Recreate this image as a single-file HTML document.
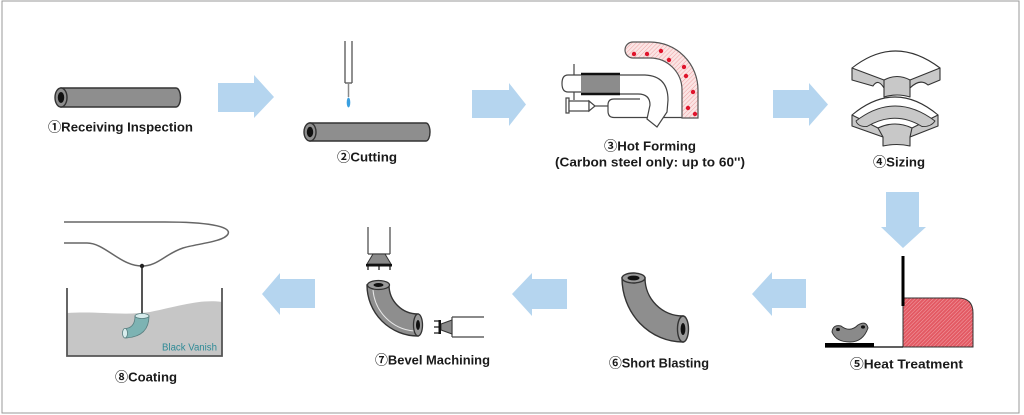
<!DOCTYPE html>
<html>
<head>
<meta charset="utf-8">
<style>
  html,body{margin:0;padding:0;background:#fff;}
  svg{display:block;}
  .lbl{font-family:"Liberation Sans","Noto Sans CJK JP",sans-serif;font-weight:bold;font-size:13px;fill:#1a1a1a;}
</style>
</head>
<body>
<svg width="1024" height="415" viewBox="0 0 1024 415" xmlns="http://www.w3.org/2000/svg">
  <defs>
    <pattern id="pinkH" width="3" height="3" patternUnits="userSpaceOnUse" patternTransform="rotate(45)">
      <rect width="3" height="3" fill="#fbe4e4"/>
      <line x1="0" y1="0" x2="0" y2="3" stroke="#eea3a3" stroke-width="1"/>
    </pattern>
    <pattern id="redH" width="2.6" height="2.6" patternUnits="userSpaceOnUse" patternTransform="rotate(45)">
      <rect width="2.6" height="2.6" fill="#e35a64"/>
      <line x1="0" y1="0" x2="0" y2="2.6" stroke="#f6b3b8" stroke-width="0.8"/>
    </pattern>
  </defs>

  <rect x="0" y="0" width="1024" height="415" fill="#fff"/>
  <rect x="2" y="1" width="1017" height="412" fill="none" stroke="#9a9a9a" stroke-width="1"/>

  <!-- Arrows -->
  <g fill="#b5d5ef">
    <polygon points="218,83 254,83 254,75 274,97 254,118 254,112 218,112"/>
    <polygon points="472,90 509,90 509,83 526,104.5 509,126 509,118 472,118"/>
    <polygon points="773,90 809,90 809,83 828,104.5 809,126 809,118 773,118"/>
    <polygon points="886,192 919,192 919,227 926,227 903,248 881,227 886,227"/>
    <polygon points="806,279 772,279 772,272 752,294 772,316 772,308 806,308"/>
    <polygon points="567,279 532,279 532,273 512,294 532,316 532,309 567,309"/>
    <polygon points="315,279 280,279 280,273 262,294 280,315 280,308 315,308"/>
  </g>

  <!-- 1 Pipe -->
  <path d="M61,88 L176,88 A4.5,9.5 0 0 1 176,107 L61,107 Z" fill="#8e8e8e" stroke="#333" stroke-width="1.4"/>
  <ellipse cx="61" cy="97.5" rx="6" ry="9.5" fill="#8e8e8e" stroke="#333" stroke-width="1.4"/>
  <ellipse cx="61" cy="97.5" rx="3.2" ry="5.5" fill="#111"/>

  <!-- 2 Cutting -->
  <line x1="345" y1="41" x2="345" y2="83" stroke="#555" stroke-width="1.3"/>
  <line x1="352" y1="41" x2="352" y2="83" stroke="#555" stroke-width="1.3"/>
  <line x1="345" y1="83" x2="352" y2="83" stroke="#555" stroke-width="1.3"/>
  <line x1="348.5" y1="83" x2="348.5" y2="97" stroke="#888" stroke-width="1.5"/>
  <ellipse cx="348.5" cy="102.5" rx="1.8" ry="5" fill="#3a9fe0"/>
  <path d="M310,123 L426,123 A4,9 0 0 1 426,141 L310,141 Z" fill="#8e8e8e" stroke="#333" stroke-width="1.4"/>
  <ellipse cx="310" cy="132" rx="6" ry="9" fill="#8e8e8e" stroke="#333" stroke-width="1.4"/>
  <ellipse cx="310" cy="132" rx="3.2" ry="5.2" fill="#111"/>

  <!-- 3 Hot forming -->
  <g stroke="#444" stroke-width="1.2" fill="#fff">
    <path d="M640,99 L614,99 Q608,99 608,105 L608,111 Q608,117.5 614,117.5 L683,117.5" fill="#fff"/>
    <path d="M620,75 L645,75 Q668,76 668,100 L667,112 L657,127 L647,119 L650,105 Q650,94 638,94 L620,94"/>
    <path d="M581,75 L568,75 Q562,75 562,83.5 Q562,92 568,92 L581,92"/>
    <line x1="574" y1="64" x2="574" y2="75"/>
    <line x1="574" y1="92" x2="574" y2="100"/>
    <rect x="566" y="98" width="3" height="15"/>
    <rect x="569" y="101" width="20" height="10"/>
    <polygon points="589,101 595,106 589,111"/>
    <line x1="595" y1="106" x2="608" y2="106"/>
  </g>
  <rect x="581" y="74" width="39" height="20" fill="#8c8c8c"/>
  <line x1="581" y1="74" x2="620" y2="74" stroke="#111" stroke-width="2.5"/>
  <line x1="581" y1="94" x2="620" y2="94" stroke="#111" stroke-width="2.5"/>
  <path d="M650,42 A48,48 0 0 1 698,90 L698,118 L682,118 L682,90 A32,32 0 0 0 650,58 L633,58 A8,8 0 0 1 633,42 Z" fill="url(#pinkH)" stroke="#555" stroke-width="1.2"/>
  <g fill="#e0142c">
    <circle cx="634" cy="54" r="2.2"/>
    <circle cx="647" cy="54" r="2.2"/>
    <circle cx="661" cy="51" r="2.2"/>
    <circle cx="669" cy="60" r="2.2"/>
    <circle cx="684" cy="67" r="2.2"/>
    <circle cx="686" cy="76" r="2.2"/>
    <circle cx="693" cy="92" r="2.2"/>
    <circle cx="688" cy="108" r="2.2"/>
    <circle cx="695" cy="114" r="2.2"/>
  </g>

  <!-- 4 Sizing: upper die -->
  <g stroke="#333" stroke-width="1.1" stroke-linejoin="round">
    <path d="M852,68 L852,80 L873,86 Q878,78 884,88 L884,97 Q897,93 910,97 L910,88 Q920,78 928,85 L940,80 L940,68 Z" fill="#c8c8c8"/>
    <path d="M852,68 Q895,34 940,68 L910,80 Q897,73 884,80 Z" fill="#fff"/>
    <line x1="884" y1="80" x2="884" y2="88"/>
    <line x1="910" y1="80" x2="910" y2="88"/>
  </g>
  <!-- lower die -->
  <g stroke="#333" stroke-width="1.1" stroke-linejoin="round">
    <path d="M852,115 L852,126 L883,137 L883,146 Q897,143 910,146 L910,137 L938,126 L938,115 Z" fill="#c8c8c8"/>
    <path d="M852,115 Q895,79 938,115 L912,128 Q895,120 878,128 Z" fill="#fff"/>
    <path d="M856,121 Q895,91 935,121 Q931,127 922,126.5 Q895,110 867,126.5 Q858,127 856,121 Z" fill="#c8c8c8" stroke-width="0.9"/>
    <line x1="878" y1="128" x2="883" y2="137"/>
    <line x1="912" y1="128" x2="910" y2="137"/>
  </g>

  <!-- 5 Heat treatment -->
  <path d="M903,298 L958,298 Q973,298 973,313 L973,347 L903,347 Z" fill="url(#redH)" stroke="#333" stroke-width="1"/>
  <line x1="903" y1="256" x2="903" y2="306" stroke="#000" stroke-width="3"/>
  <line x1="825" y1="347" x2="903" y2="347" stroke="#000" stroke-width="1.2"/>
  <rect x="825" y="343" width="49" height="4.5" fill="#000"/>
  <path d="M832,332 Q833,324 841,326 Q850,333 858,325 Q866,320 868,328 Q863,342 850,342 Q836,342 832,332 Z" fill="#8a8a8a" stroke="#333" stroke-width="1"/>
  <ellipse cx="838" cy="329.5" rx="2" ry="1.6" fill="#111"/>
  <ellipse cx="863" cy="327" rx="2" ry="1.6" fill="#111"/>

  <!-- 6 Short blasting -->
  <path d="M622,278 A61,64 0 0 0 683,342 L683,316 A38,38 0 0 1 645,278 Z" fill="#8e8e8e" stroke="#333" stroke-width="1.4"/>
  <ellipse cx="633.5" cy="278" rx="11.5" ry="5" fill="#9a9a9a" stroke="#333" stroke-width="1.4"/>
  <ellipse cx="633.5" cy="278" rx="6" ry="2.4" fill="#111"/>
  <ellipse cx="683" cy="329" rx="5.5" ry="13" fill="#9a9a9a" stroke="#333" stroke-width="1.4"/>
  <ellipse cx="683" cy="329" rx="2.4" ry="6" fill="#111"/>

  <!-- 7 Bevel machining -->
  <g stroke="#444" stroke-width="1.2" fill="none">
    <line x1="368" y1="227" x2="368" y2="254"/>
    <line x1="390" y1="227" x2="390" y2="254"/>
    <line x1="368" y1="254" x2="390" y2="254"/>
    <line x1="452" y1="317" x2="484" y2="317"/>
    <line x1="452" y1="337" x2="484" y2="337"/>
    <line x1="452" y1="317" x2="452" y2="337"/>
  </g>
  <polygon points="373,254 385,254 391,264 367,264" fill="#8a8a8a" stroke="#333" stroke-width="1"/>
  <rect x="366" y="264" width="26" height="2.5" fill="#111"/>
  <g stroke="#111" stroke-width="1.2">
    <line x1="368" y1="266" x2="368" y2="270"/>
    <line x1="379" y1="266" x2="379" y2="270"/>
    <line x1="390" y1="266" x2="390" y2="270"/>
  </g>
  <polygon points="452,320 452,334 441,330 441,324" fill="#8a8a8a" stroke="#333" stroke-width="1"/>
  <rect x="438.5" y="320" width="2.5" height="14" fill="#111"/>
  <g stroke="#111" stroke-width="1.2">
    <line x1="434" y1="321" x2="438.5" y2="321"/>
    <line x1="434" y1="327" x2="438.5" y2="327"/>
    <line x1="434" y1="333" x2="438.5" y2="333"/>
  </g>
  <path d="M367,285 A51,51 0 0 0 418,336 L418,314 A29,29 0 0 1 389,285 Z" fill="#8e8e8e" stroke="#333" stroke-width="1.4"/>
  <path d="M373,290 A45,45 0 0 0 414,331" fill="none" stroke="#e8e8e8" stroke-width="1"/>
  <ellipse cx="378.5" cy="285" rx="11" ry="4.5" fill="#9a9a9a" stroke="#333" stroke-width="1.3"/>
  <ellipse cx="378.5" cy="285" rx="5" ry="2" fill="#111"/>
  <ellipse cx="418" cy="325" rx="4.5" ry="11" fill="#9a9a9a" stroke="#333" stroke-width="1.3"/>
  <ellipse cx="418" cy="325" rx="2" ry="5" fill="#111"/>

  <!-- 8 Coating -->
  <path d="M64,222 L165,222 C205,222 232,226 228,234 C224,242 195,244 183,248 C165,254 158,266 142,266 C120,266 105,243 87,243 L64,243" fill="none" stroke="#666" stroke-width="1.5"/>
  <path d="M67,313 C100,311 120,316 150,312 C180,306 200,299 222,302 L222,356 L67,356 Z" fill="#c6c6c6"/>
  <polyline points="67,288 67,356 222,356 222,288" fill="none" stroke="#555" stroke-width="1.8"/>
  <line x1="142" y1="266" x2="142" y2="314" stroke="#555" stroke-width="2"/>
  <circle cx="142" cy="266" r="2.2" fill="#222"/>
  <path d="M135,316 Q135,328 125,328.5 L125,338 Q149,337 149,316 Z" fill="#7db3b3" stroke="#5a7f80" stroke-width="0.8"/>
  <ellipse cx="142" cy="316" rx="7" ry="2.5" fill="#d8ecec" stroke="#5a7f80" stroke-width="0.8"/>
  <ellipse cx="125" cy="333.2" rx="2.5" ry="4.8" fill="#d8ecec" stroke="#5a7f80" stroke-width="0.8"/>
  <text x="162" y="350.5" font-family="Liberation Sans, sans-serif" font-size="10" fill="#2e8a96" textLength="55" lengthAdjust="spacingAndGlyphs">Black Vanish</text>

  <!-- Labels -->
  <text class="lbl" x="48" y="131.5" textLength="145" lengthAdjust="spacingAndGlyphs">①Receiving Inspection</text>
  <text class="lbl" x="337" y="161.5" textLength="60" lengthAdjust="spacingAndGlyphs">②Cutting</text>
  <text class="lbl" x="604" y="150.5" textLength="92" lengthAdjust="spacingAndGlyphs">③Hot Forming</text>
  <text class="lbl" x="555" y="166.5" textLength="190" lengthAdjust="spacingAndGlyphs">(Carbon steel only: up to 60'')</text>
  <text class="lbl" x="873" y="166.5" textLength="52" lengthAdjust="spacingAndGlyphs">④Sizing</text>
  <text class="lbl" x="850" y="368.5" textLength="113" lengthAdjust="spacingAndGlyphs">⑤Heat Treatment</text>
  <text class="lbl" x="609" y="367.5" textLength="100" lengthAdjust="spacingAndGlyphs">⑥Short Blasting</text>
  <text class="lbl" x="375" y="364.5" textLength="115" lengthAdjust="spacingAndGlyphs">⑦Bevel Machining</text>
  <text class="lbl" x="115" y="381.5" textLength="62" lengthAdjust="spacingAndGlyphs">⑧Coating</text>
</svg>
</body>
</html>
